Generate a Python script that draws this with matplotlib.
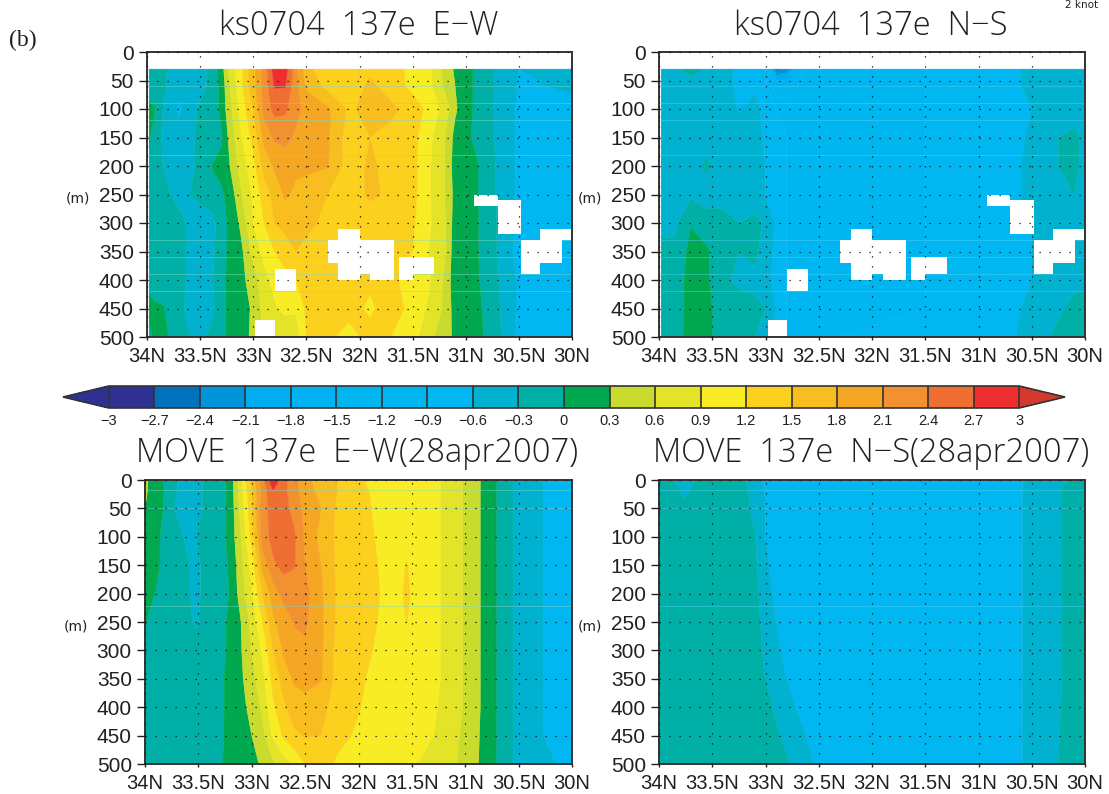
import numpy as np
import matplotlib
matplotlib.use("Agg")
import matplotlib.pyplot as plt
from matplotlib.colors import ListedColormap, BoundaryNorm
from matplotlib.patches import Rectangle

TICK_FONT = ['Liberation Sans Narrow', 'Liberation Sans']
TITLE_FONT = ['Open Sans', 'DejaVu Sans']

levels = [round(-3 + 0.3 * i, 1) for i in range(21)]
level_labels = ['\u22123', '\u22122.7', '\u22122.4', '\u22122.1', '\u22121.8', '\u22121.5', '\u22121.2', '\u22120.9',
                '\u22120.6', '\u22120.3', '0', '0.3', '0.6', '0.9', '1.2', '1.5', '1.8', '2.1', '2.4', '2.7', '3']
band_colors = ['#2e3192', '#0072bc', '#0095d9', '#00aeef', '#00b2f0', '#00b5f0', '#00b6f1', '#00b7f1',
               '#00b1d0', '#00b0a6', '#00a94f', '#c9dc2e', '#e3e427', '#f8ec24', '#fbd11e',
               '#f8bd1f', '#f5a623', '#f19130', '#ef6f33', '#ee2e2e']
under_color = '#2e3192'
over_color = '#d4392d'

lat_ticks = [34, 33.5, 33, 32.5, 32, 31.5, 31, 30.5, 30]
lat_labels = ['34N', '33.5N', '33N', '32.5N', '32N', '31.5N', '31N', '30.5N', '30N']
depth_ticks = [0, 50, 100, 150, 200, 250, 300, 350, 400, 450, 500]

# ---- ks0704 E-W ----
ks_ew_lat = [33.98, 33.93, 33.85, 33.7, 33.5, 33.38, 33.3, 33.22, 33.12, 33.0, 32.9, 32.8, 32.7, 32.6, 32.5,
             32.3, 32.1, 31.9, 31.7, 31.5, 31.35, 31.2, 31.1, 31.0, 30.9, 30.75, 30.5, 30.25, 30.0]
ks_ew_depth = [30, 60, 100, 150, 200, 250, 300, 350, 400, 450, 500]
ks_ew = [
    [-.15, -.2, -.25, -.45, -.4, -.2, .15, .7, 1.1, 1.7, 2.2, 2.85, 2.85, 2.2, 1.6, 1.3, 1.35, 1.45, 1.35, 1.1, 1.0, .5, .25, .1, -.05, -.28, -.6, -.55, -.5],
    [-.1, -.15, -.25, -.5, -.4, -.2, .1, .6, 1.1, 1.7, 2.2, 2.72, 2.72, 2.2, 1.75, 1.4, 1.35, 1.55, 1.4, 1.1, 1.0, .55, .3, .1, -.05, -.28, -.62, -.6, -.55],
    [.05, .02, -.3, -.65, -.25, -.2, .1, .5, 1.0, 1.5, 2.2, 2.5, 2.45, 2.2, 2.0, 1.85, 1.45, 1.6, 1.55, 1.4, 1.1, .8, .35, .1, -.05, -.28, -.65, -.7, -.7],
    [.03, -.1, -.35, -.45, -.25, -.2, -.05, .4, .85, 1.3, 1.9, 2.15, 2.2, 2.05, 2.0, 1.85, 1.35, 1.5, 1.42, 1.3, 1.0, .6, .2, .05, -.05, -.28, -.65, -.7, -.7],
    [-.05, -.15, -.3, -.45, -.25, .02, .1, .3, .7, 1.1, 1.6, 1.85, 1.9, 1.85, 1.85, 1.82, 1.35, 1.55, 1.4, 1.3, .95, .6, .15, .1, .03, -.25, -.65, -.7, -.7],
    [-.1, -.15, -.25, -.35, -.25, -.1, -.05, .1, .55, .95, 1.35, 1.6, 1.85, 1.75, 1.7, 1.5, 1.35, 1.55, 1.45, 1.3, .95, .6, .2, .1, .03, -.25, -.65, -.7, -.7],
    [-.1, -.15, -.2, -.25, -.4, -.4, -.1, .05, .35, .9, 1.2, 1.5, 1.6, 1.7, 1.55, 1.45, 1.35, 1.35, 1.35, 1.25, .95, .65, .15, .1, .03, -.22, -.7, -.8, -.8],
    [-.1, -.15, -.2, -.25, -.4, -.35, -.1, .05, .2, .7, 1.0, 1.2, 1.35, 1.5, 1.45, 1.4, 1.3, 1.3, 1.3, 1.2, .9, .65, .1, .1, .03, -.22, -.7, -.8, -.8],
    [-.1, -.15, -.2, -.25, -.4, -.3, -.1, .1, .2, .45, .8, 1.0, 1.1, 1.2, 1.35, 1.35, 1.25, 1.25, 1.25, 1.1, .95, .55, .1, .1, .05, -.2, -.65, -.8, -.8],
    [.1, .05, .03, -.25, -.45, -.35, -.1, .1, .15, .35, .7, .85, 1.0, .95, 1.25, 1.35, 1.3, 1.15, 1.35, 1.1, .85, .55, .15, .1, .08, -.15, -.65, -.8, -.8],
    [-.1, .05, .1, -.2, -.4, -.2, -.1, .1, .2, .35, .65, .65, .6, .7, 1.2, 1.25, 1.1, 1.3, 1.2, 1.05, .65, .5, .2, .1, .08, -.1, -.7, -.8, -.8],
]

# ---- ks0704 N-S ----
ks_ns_lat = [33.98, 33.85, 33.7, 33.55, 33.4, 33.25, 33.1, 33.0, 32.9, 32.8, 32.6, 32.3, 31.5, 30.7, 30.5, 30.4, 30.25, 30.1, 30.0]
ks_ns_depth = [30, 60, 100, 150, 200, 250, 300, 350, 400, 450, 500]
ks_ns = [
    [-.45, -.35, -.25, -.33, -.5, -.65, -.7, -.9, -2.45, -2.3, -.9, -.9, -.9, -.65, -.55, -.45, -.45, -.45, -.45],
    [-.45, -.4, -.35, -.4, -.5, -.65, -.65, -.8, -1.5, -1.5, -.9, -.9, -.9, -.65, -.55, -.45, -.45, -.45, -.45],
    [-.45, -.42, -.4, -.4, -.45, -.62, -.5, -.7, -.9, -.9, -.9, -.9, -.9, -.7, -.6, -.5, -.45, -.4, -.28],
    [-.42, -.42, -.4, -.4, -.3, -.5, -.5, -.65, -.8, -.9, -.9, -.9, -.9, -.7, -.55, -.45, -.3, -.25, -.35],
    [-.28, -.45, -.4, -.25, -.5, -.45, -.5, -.6, -.7, -.9, -.9, -.9, -.9, -.7, -.5, -.4, -.3, -.25, -.35],
    [-.45, -.4, -.35, -.4, -.35, -.4, -.5, -.6, -.7, -.9, -.9, -.9, -.9, -.7, -.5, -.4, -.4, -.3, -.33],
    [-.4, -.35, -.02, -.2, -.25, -.3, -.2, -.35, -.65, -.9, -.9, -.9, -.9, -.7, -.6, -.45, -.45, -.4, -.28],
    [-.2, -.25, .1, .05, -.25, -.3, -.25, -.4, -.7, -.9, -.9, -.9, -.9, -.7, -.6, -.5, -.45, -.4, -.35],
    [-.2, -.2, .15, .05, -.25, -.35, -.35, -.5, -.7, -.9, -.9, -.9, -.9, -.7, -.6, -.5, -.4, -.35, -.33],
    [-.3, -.2, .15, .1, -.2, -.2, -.25, -.3, -.6, -.9, -.9, -.9, -.9, -.7, -.5, -.4, -.33, -.25, -.25],
    [-.25, -.2, .2, .1, -.2, -.25, -.3, -.5, -.7, -.9, -.9, -.9, -.8, -.65, -.45, -.35, -.25, -.2, -.2],
]

# ---- MOVE E-W ----
mv_ew_lat = [34, 33.93, 33.86, 33.75, 33.64, 33.52, 33.4, 33.28, 33.2, 33.1, 33, 32.9, 32.8, 32.7, 32.6, 32.5,
             32.35, 32.2, 32.0, 31.8, 31.65, 31.55, 31.45, 31.3, 31.1, 30.95, 30.85, 30.7, 30.55, 30.3, 30]
mv_ew_depth = [0, 20, 50, 100, 150, 200, 250, 300, 350, 400, 450, 500]
mv_ew = [
    [.4, .15, .1, -.2, -.4, -.4, -.2, -.1, .1, .8, 1.6, 2.3, 2.95, 2.5, 2.2, 1.9, 1.65, 1.5, 1.25, 1.05, 1.05, 1.05, 1.05, 1.0, .7, .5, .28, -.02, -.3, -.58, -.75],
    [.4, .1, .1, -.2, -.4, -.4, -.2, -.1, .1, .8, 1.5, 2.2, 2.68, 2.5, 2.2, 1.95, 1.7, 1.5, 1.3, 1.1, 1.05, 1.05, 1.05, 1.0, .7, .5, .28, -.02, -.3, -.58, -.75],
    [.3, .05, .1, -.25, -.45, -.4, -.2, -.1, .1, .7, 1.45, 2.3, 2.5, 2.5, 2.3, 2.0, 1.8, 1.45, 1.35, 1.1, 1.05, 1.05, 1.05, 1.0, .7, .5, .28, -.02, -.3, -.58, -.75],
    [.1, .1, .0, -.2, -.3, -.3, -.2, -.1, .1, .6, 1.3, 2.25, 2.5, 2.55, 2.45, 2.05, 1.7, 1.45, 1.35, 1.15, 1.05, 1.05, 1.05, 1.0, .7, .5, .28, -.02, -.3, -.58, -.75],
    [.1, .08, .0, -.15, -.25, -.35, -.2, -.1, .05, .5, 1.0, 1.9, 2.35, 2.5, 2.42, 2.1, 1.8, 1.45, 1.4, 1.18, 1.05, 1.22, 1.05, 1.0, .7, .5, .28, -.02, -.3, -.58, -.75],
    [.05, .03, -.05, -.15, -.25, -.35, -.2, -.1, .02, .45, .85, 1.5, 1.95, 2.2, 2.25, 2.2, 1.85, 1.45, 1.4, 1.2, 1.05, 1.28, 1.05, 1.0, .7, .5, .28, -.02, -.3, -.58, -.75],
    [.02, -.1, -.15, -.2, -.25, -.32, -.2, -.05, .05, .3, .7, 1.2, 1.75, 1.95, 2.12, 2.15, 1.85, 1.45, 1.35, 1.18, 1.05, 1.21, 1.05, 1.0, .7, .5, .28, -.02, -.3, -.58, -.75],
    [-.1, -.1, -.15, -.15, -.2, -.25, -.2, -.05, .05, .28, .6, .95, 1.5, 1.85, 2.0, 2.05, 1.85, 1.4, 1.3, 1.15, 1.05, 1.05, 1.05, 1.0, .7, .5, .28, -.02, -.3, -.58, -.75],
    [-.1, -.1, -.15, -.15, -.2, -.2, -.2, -.03, .08, .25, .5, .8, 1.3, 1.65, 1.85, 1.9, 1.82, 1.4, 1.25, 1.1, 1.05, 1.05, 1.05, 1.0, .7, .5, .28, -.02, -.3, -.58, -.75],
    [-.1, -.1, -.15, -.15, -.2, -.2, -.2, -.03, .08, .2, .4, .65, 1.15, 1.45, 1.65, 1.7, 1.6, 1.35, 1.22, 1.05, 1.02, 1.02, 1.02, .95, .7, .5, .28, -.02, -.3, -.58, -.75],
    [-.1, -.1, -.15, -.15, -.2, -.2, -.2, -.03, .1, .15, .3, .5, .95, 1.25, 1.45, 1.52, 1.5, 1.3, 1.15, 1.0, 1.0, 1.0, 1.0, .9, .65, .48, .26, -.02, -.3, -.58, -.75],
    [-.1, -.1, -.15, -.15, -.2, -.2, -.15, -.01, .1, .12, .2, .35, .55, .75, .95, 1.2, 1.35, 1.15, 1.05, 1.0, .98, .95, .9, .78, .62, .45, .25, -.02, -.3, -.5, -.7],
]

# ---- MOVE N-S ----
mv_ns_lat = [34, 33.86, 33.76, 33.66, 33.2, 33.1, 33, 32.9, 32.8, 32.7, 32.6, 32.5, 31, 30.6, 30.55, 30.3, 30.2, 30]
mv_ns_depth = [0, 10, 35, 50, 100, 250, 340, 400, 450, 500]
mv_ns = [
    [-.31, -.31, -.35, -.31, -.28, -.5, -.7, -.75, -.8, -.8, -.8, -.8, -.8, -.62, -.55, -.45, -.35, -.2],
    [-.25, -.25, -.4, -.25, -.25, -.45, -.65, -.7, -.8, -.8, -.8, -.8, -.8, -.62, -.55, -.4, -.28, -.2],
    [-.2, -.25, -.3, -.25, -.2, -.4, -.6, -.7, -.8, -.8, -.8, -.8, -.8, -.62, -.55, -.4, -.28, -.2],
    [-.2, -.2, -.25, -.2, -.2, -.4, -.6, -.7, -.8, -.8, -.8, -.8, -.8, -.62, -.55, -.4, -.28, -.2],
    [-.15, -.15, -.15, -.15, -.15, -.28, -.6, -.7, -.8, -.8, -.8, -.8, -.8, -.62, -.55, -.4, -.28, -.2],
    [-.12, -.12, -.12, -.12, -.1, -.2, -.4, -.6, -.7, -.8, -.8, -.8, -.8, -.62, -.55, -.4, -.28, -.2],
    [-.1, -.1, -.1, -.1, -.1, -.15, -.32, -.5, -.62, -.75, -.8, -.8, -.8, -.62, -.55, -.4, -.28, -.2],
    [-.1, -.1, -.1, -.1, -.1, -.12, -.2, -.35, -.5, -.62, -.75, -.8, -.8, -.62, -.55, -.38, -.27, -.2],
    [-.1, -.1, -.1, -.1, -.1, -.1, -.15, -.25, -.4, -.5, -.62, -.75, -.8, -.62, -.55, -.36, -.26, -.2],
    [-.1, -.1, -.1, -.1, -.1, -.1, -.1, -.15, -.25, -.4, -.55, -.65, -.8, -.62, -.55, -.35, -.25, -.2],
]

# Missing cells of the ks0704 section: north lat, south lat, top depth, bottom depth
gap_north = [30.92, 30.70, 30.30, 30.48, 30.48, 32.20, 32.30, 32.20, 32.20, 31.90, 31.63, 31.63, 32.80, 32.98]
gap_south = [30.70, 30.48, 30.00, 30.09, 30.30, 32.00, 31.68, 31.68, 32.00, 31.68, 31.30, 31.50, 32.60, 32.80]
gap_top = [250, 260, 310, 330, 370, 310, 330, 370, 390, 390, 360, 390, 380, 470]
gap_bottom = [270, 320, 330, 370, 390, 330, 370, 390, 400, 400, 390, 400, 420, 500]

ks_streak_depths = [60, 90, 120, 180, 330, 360, 390, 420]
mv_streak_depths = [17, 50, 222]

W, H = 1109, 794
fig = plt.figure(figsize=(W / 100, H / 100), dpi=100, facecolor='white')


def axes_px(x0, x1, y0, y1):
    return fig.add_axes([x0 / W, 1 - y1 / H, (x1 - x0) / W, (y1 - y0) / H])


cmap = ListedColormap(band_colors)
cmap.set_under(under_color)
cmap.set_over(over_color)
norm = BoundaryNorm(levels, cmap.N)


def panel(box, lat, depth, values, title, tcy, gaps=False, streaks=(), streak_color='#7fd8c8'):
    ax = axes_px(*box)
    cs = ax.contourf(lat, depth, np.array(values), levels=levels, cmap=cmap, norm=norm, extend='both',
                     antialiased=True)
    cs.set_edgecolor('face')
    cs.set_linewidth(0.3)
    for d in streaks:
        ax.axhline(d, color=streak_color, lw=0.6, alpha=0.55, zorder=1.5)
    if gaps:
        for n, s, t, b in zip(gap_north, gap_south, gap_top, gap_bottom):
            ax.add_patch(Rectangle((s, t), n - s, b - t, fc='white', ec='none', zorder=2))
    ax.set_xlim(34, 30)
    ax.set_ylim(500, 0)
    ax.set_xticks(lat_ticks)
    ax.set_xticklabels(lat_labels, family=TICK_FONT, fontsize=14.5, color='#231f20')
    ax.set_yticks(depth_ticks)
    ax.set_yticklabels([str(d) for d in depth_ticks], family=TICK_FONT, fontsize=15, color='#231f20')
    ax.tick_params(axis='x', length=2.5, width=1.0, color='#231f20', pad=4.5)
    ax.tick_params(axis='y', length=5.5, width=1.0, color='#231f20', pad=4)
    ax.grid(True, color='#111111', linestyle=(0, (1, 7)), linewidth=0.9, zorder=3)
    ax.set_axisbelow(False)
    for sp in ax.spines.values():
        sp.set_linewidth(1.4)
        sp.set_color('#333333')
    cx = (box[0] + box[1]) / 2
    fig.text((cx - 1) / W, 1 - tcy / H, title, ha='center', va='center',
             family=TITLE_FONT, fontsize=23.5, weight='light', color='#231f20')
    fig.text((box[0] - 69) / W, 1 - (box[2] + 147) / H, '(m)', ha='center', va='center',
             family='DejaVu Sans', fontsize=10, color='#231f20')
    return cs


cs = panel((147, 572, 52, 337), ks_ew_lat, ks_ew_depth, ks_ew, 'ks0704  137e  E\u2212W', 26, True, ks_streak_depths)
panel((659, 1085, 52, 337), ks_ns_lat, ks_ns_depth, ks_ns, 'ks0704  137e  N\u2212S', 26, True, ks_streak_depths, '#55d0f5')
panel((145, 572, 480, 764), mv_ew_lat, mv_ew_depth, mv_ew, 'MOVE  137e  E\u2212W(28apr2007)', 453, False, mv_streak_depths)
panel((659, 1085, 480, 764), mv_ns_lat, mv_ns_depth, mv_ns, 'MOVE  137e  N\u2212S(28apr2007)', 453, False, mv_streak_depths, '#55d0f5')

cax = axes_px(63, 1065, 386, 408)
cb = fig.colorbar(cs, cax=cax, orientation='horizontal', ticks=levels, extend='both',
                  extendfrac=46 / 913, drawedges=True, spacing='uniform')
cb.ax.set_xticklabels(level_labels, family=TICK_FONT, fontsize=10.5, color='#231f20')
cb.ax.tick_params(length=0, pad=4)
cb.outline.set_linewidth(1.2)
cb.outline.set_edgecolor('#333333')
cb.dividers.set_color('#333333')
cb.dividers.set_linewidth(1.2)

fig.text(9 / W, 1 - 40 / H, '(b)', family='Liberation Serif', fontsize=17, va='center', ha='left', color='#231f20')
fig.text(1098 / W, 1 - 0.5 / H, '2 knot', family='DejaVu Sans', fontsize=7.5, va='top', ha='right', color='#231f20')

fig.savefig('out.png', dpi=100, facecolor='white')
